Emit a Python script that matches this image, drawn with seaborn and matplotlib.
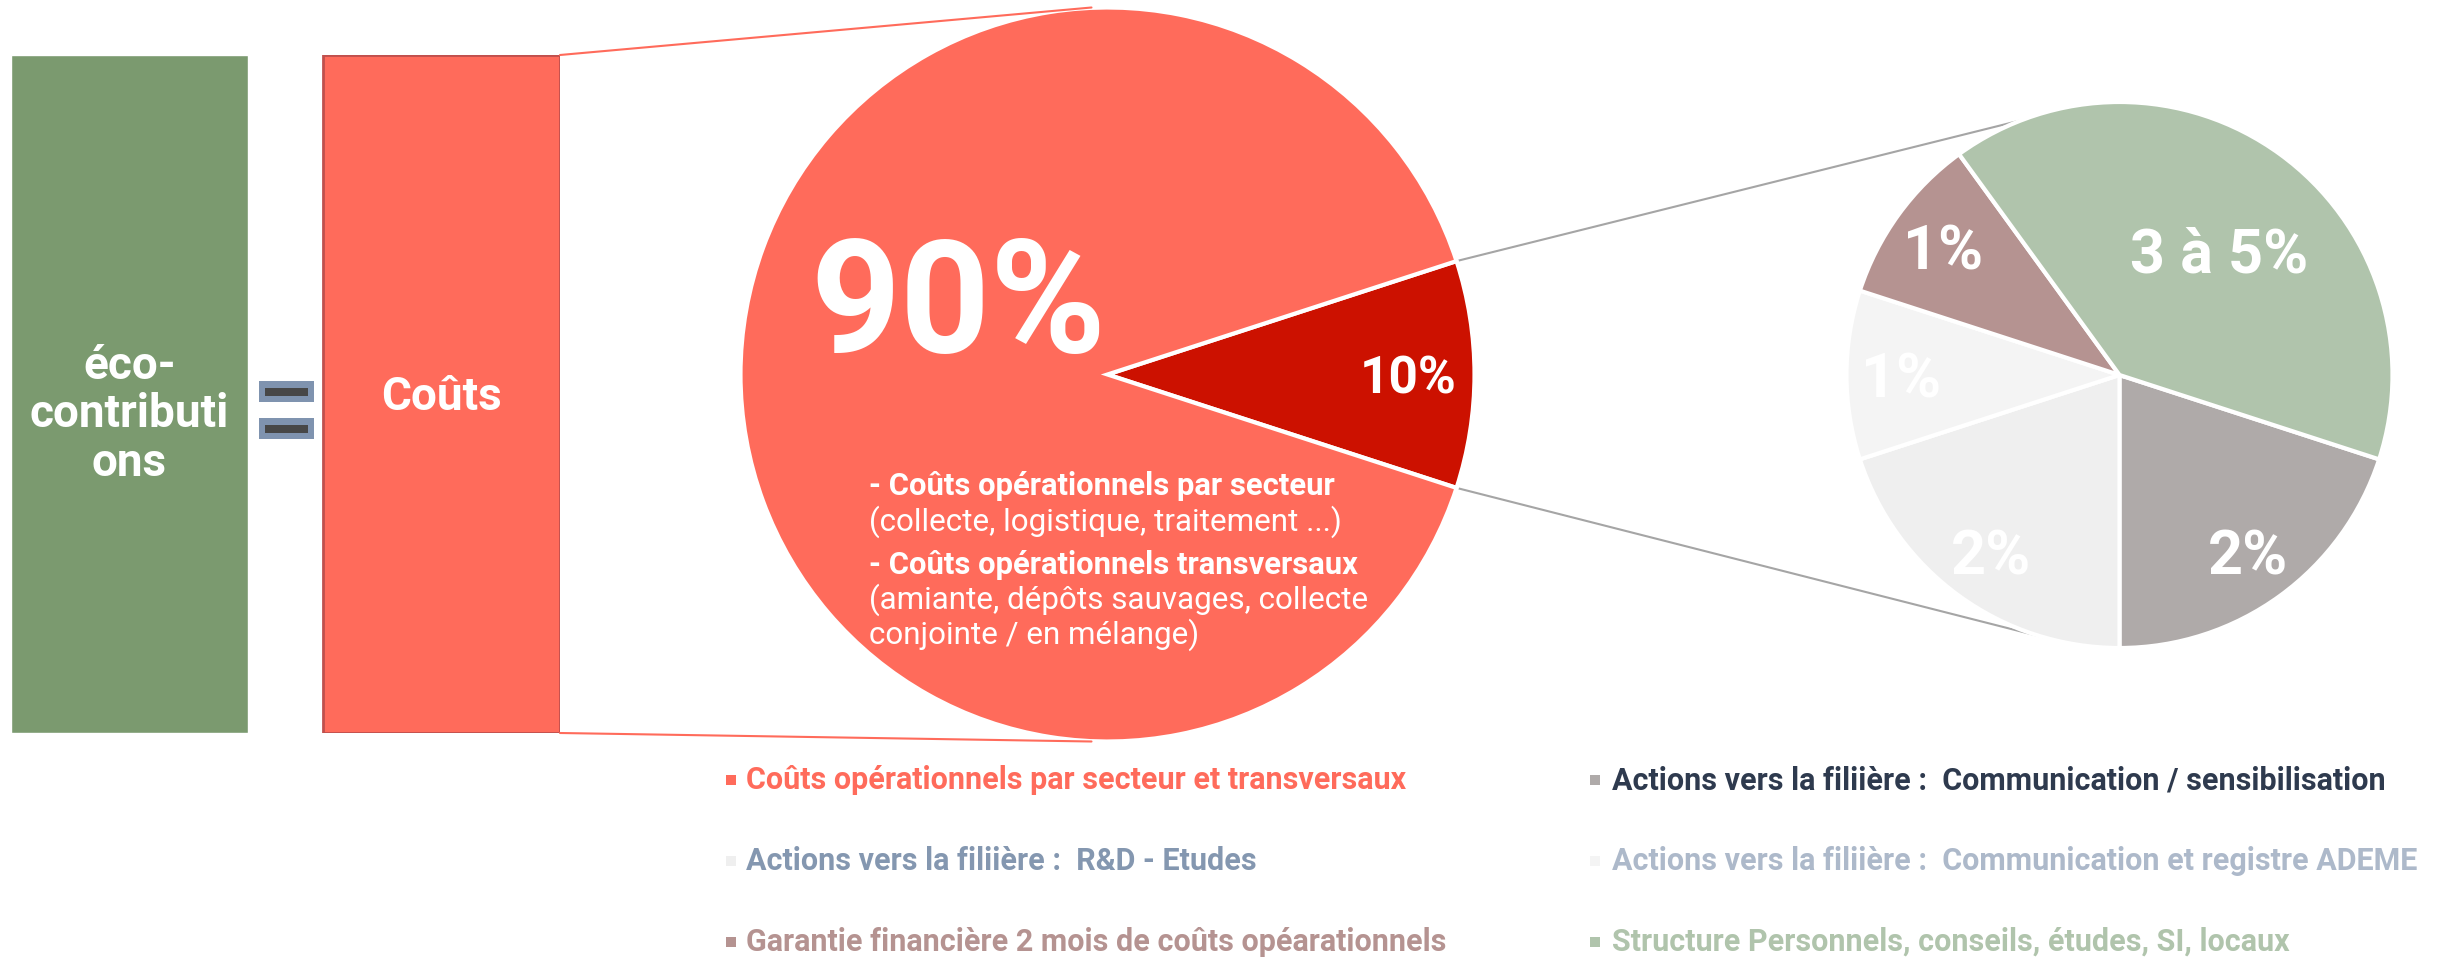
import matplotlib
matplotlib.use("Agg")
import matplotlib.pyplot as plt
import matplotlib.patches as mpatches
import numpy as np
import seaborn as sns

W, H = 2445, 957

# ---- data ----
sides = ["éco-\ncontributi\nons", "Coûts"]
side_values = [100, 100]

cost_items = [
    "Coûts opérationnels par secteur et transversaux",
    "Actions vers la filiière :  Communication / sensibilisation",
    "Actions vers la filiière :  R&D - Etudes",
    "Actions vers la filiière :  Communication et registre ADEME",
    "Garantie financière 2 mois de coûts opéarationnels",
    "Structure Personnels, conseils, études, SI, locaux",
]
cost_shares = [90, 2, 2, 1, 1, 4]
share_labels = ["90%", "2%", "2%", "1%", "1%", "3 à 5%"]
other_label = "10%"
detail_lines = [
    "- Coûts opérationnels par secteur",
    "(collecte, logistique, traitement ...)",
    "- Coûts opérationnels transversaux",
    "(amiante, dépôts sauvages, collecte",
    "conjointe / en mélange)",
]

# ---- styles ----
side_colors = ["#7B9A6F", "#FF6B5B"]
slice_colors = ["#FF6B5B", "#AFAAA9", "#EFEFEF", "#F4F4F4", "#B59391", "#B0C4AC"]
other_color = "#CC1100"
legend_text_colors = ["#FF6B5B", "#2E3A4E", "#8497B0", "#ADB9CA", "#B59391", "#B0C4AC"]

sns.set_theme(style="white")
plt.rcParams["font.family"] = ["Roboto", "DejaVu Sans"]

fig = plt.figure(figsize=(W / 100, H / 100), dpi=100)

# the two rectangles: eco-contributions = costs
bar_w = 0.757
left_px, right_px, top_px, bot_px = 11, 560, 55, 733
axb = fig.add_axes([left_px / W, (H - bot_px) / H, (right_px - left_px) / W, (bot_px - top_px) / H])
sns.barplot(x=sides, y=side_values, hue=sides, palette=side_colors, saturation=1,
            width=bar_w, legend=False, errorbar=None, ax=axb)
axb.set_xlim(-bar_w / 2, 1 + bar_w / 2)
axb.set_ylim(0, 100)
axb.axis("off")
axb.patches[1].set_edgecolor("#C0504D")
axb.patches[1].set_linewidth(2)
text_y = [47.0, 49.6]
for i, s in enumerate(sides):
    axb.text(i, text_y[i], s, ha="center", va="center", color="white",
             fontsize=33, fontweight="bold", linespacing=1.12)

# overlay in pixel coordinates (y up)
ax = fig.add_axes([0, 0, 1, 1])
ax.set_xlim(0, W)
ax.set_ylim(0, H)
ax.set_aspect("equal")
ax.axis("off")

# "=" sign
for y0 in [381, 418]:
    ax.add_patch(mpatches.Rectangle((259, H - y0 - 21), 55, 21, color="#7F93AF", lw=0))
    ax.add_patch(mpatches.Rectangle((265, H - y0 - 15), 43, 8, color="#474747", lw=0))

# big pie
c1 = (1107.5, H - 374.5)
r1 = 367
other = sum(cost_shares[1:])
w1, t1 = ax.pie([other, cost_shares[0]], colors=[other_color, slice_colors[0]],
                labels=[other_label, ""], labeldistance=0.82, startangle=-18,
                center=c1, radius=r1, frame=True,
                wedgeprops=dict(edgecolor="white", linewidth=3),
                textprops=dict(color="white", fontsize=37, fontweight="bold"))
for t in t1:
    t.set_ha("center")
    t.set_va("center_baseline")

ax.text(958, H - 293, share_labels[0], ha="center", va="center_baseline", color="white",
        fontsize=113, fontweight="bold")

detail_y = [486, 522, 565, 600, 635]
for i, line in enumerate(detail_lines):
    bold = line.startswith("-")
    ax.text(869, H - detail_y[i], line, ha="left", va="center", color="white",
            fontsize=22.3 if bold else 22.6, fontweight="bold" if bold else "normal")

# small pie
c2 = (2119.5, H - 375)
r2 = 273
w2, t2 = ax.pie(cost_shares[1:], colors=slice_colors[1:], labels=share_labels[1:],
                labeldistance=0.8, startangle=-18, counterclock=False,
                center=c2, radius=r2, frame=True,
                wedgeprops=dict(edgecolor="white", linewidth=3),
                textprops=dict(color="white", fontsize=44, fontweight="bold"))
for t in t2:
    t.set_ha("center")
    t.set_va("center_baseline")
mid = np.deg2rad((w2[-1].theta1 + w2[-1].theta2) / 2)
t2[-1].set_position((c2[0] + 0.57 * r2 * np.cos(mid) + 8, c2[1] + 0.57 * r2 * np.sin(mid)))

# connector lines
ax.plot([right_px, c1[0] - 16], [H - top_px, c1[1] + r1], color="#FF6B5B", lw=1.5)
ax.plot([right_px, c1[0] - 16], [H - bot_px, c1[1] - r1], color="#FF6B5B", lw=1.5)
for a_start, a_end in [(18, 111), (-18, -106)]:
    xs = [c1[0] + r1 * np.cos(np.deg2rad(a_start)), c2[0] + r2 * np.cos(np.deg2rad(a_end))]
    ys = [c1[1] + r1 * np.sin(np.deg2rad(a_start)), c2[1] + r2 * np.sin(np.deg2rad(a_end))]
    ax.plot(xs, ys, color="#A5A5A5", lw=1.5, zorder=0)

# legend
row_y = [780, 861, 942]
marker_x = [730.5, 1594.5]
text_x = [746, 1612]
for i, item in enumerate(cost_items):
    r, c = i // 2, i % 2
    ax.scatter([marker_x[c]], [H - row_y[r]], marker="s", s=62, color=slice_colors[i], linewidths=0)
    ax.text(text_x[c], H - row_y[r], item, ha="left", va="center",
            color=legend_text_colors[i], fontsize=22, fontweight="bold")

ax.set_xlim(0, W)
ax.set_ylim(0, H)

fig.savefig("out.png", dpi=100)
